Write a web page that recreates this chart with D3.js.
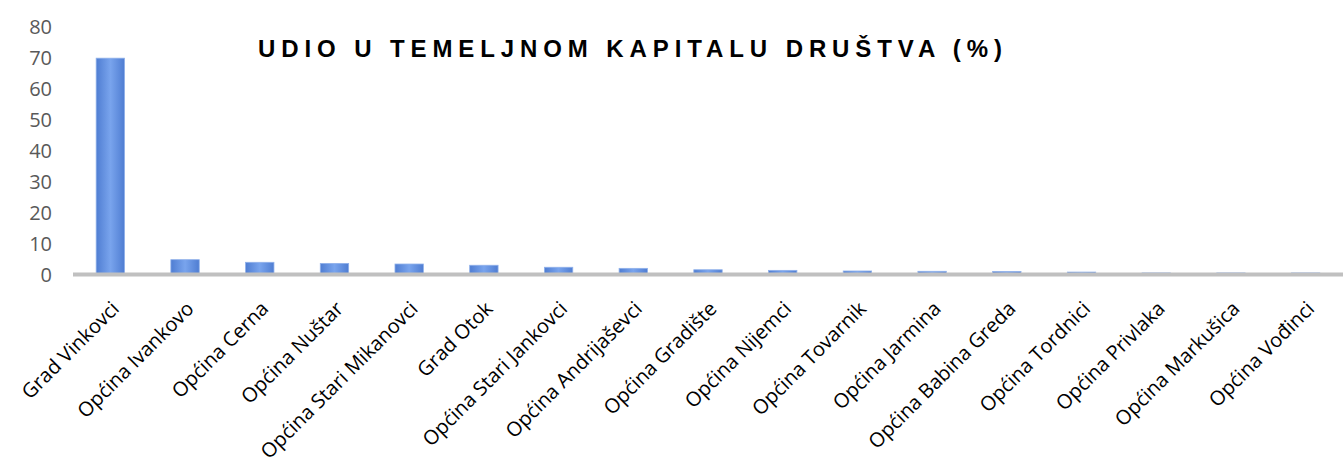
<!DOCTYPE html>
<html>
  <head>
    <meta charset="utf-8" />
    <style>
      body { margin: 0; background: #fff; }
      #chart { width: 1343px; height: 460px; }
      .ytick { font-family: 'Open Sans', sans-serif; font-size: 20px; fill: #595959; }
      .xlab { font-family: 'Open Sans', sans-serif; font-size: 20px; fill: #000; }
      .title { font-family: 'Liberation Sans', Arial, sans-serif; font-size: 24px; font-weight: bold; fill: #000; }
    </style>
  </head>
  <body>
    <div id="chart"></div>
    <script src="https://d3js.org/d3.v7.min.js"></script>
    <script>
    var categories = ['Grad Vinkovci', 'Općina Ivankovo', 'Općina Cerna', 'Općina Nuštar',
      'Općina Stari Mikanovci', 'Grad Otok', 'Općina Stari Jankovci', 'Općina Andrijaševci',
      'Općina Gradište', 'Općina Nijemci', 'Općina Tovarnik', 'Općina Jarmina',
      'Općina Babina Greda', 'Općina Tordnici', 'Općina Privlaka', 'Općina Markušica', 'Općina Vođinci'];
    var values = [69.3, 4.3, 3.45, 3.1, 2.9, 2.5, 1.85, 1.5, 1.05, 0.85, 0.65, 0.55, 0.5, 0.3, 0.02, 0.02, 0.02];
    var yTicks = [0, 10, 20, 30, 40, 50, 60, 70, 80];
    var title = 'UDIO U TEMELJNOM KAPITALU DRUŠTVA (%)';

    var width = 1343,
        height = 460;

    var svg = d3.select('#chart')
      .append('svg')
      .attr('width', width)
      .attr('height', height);

    // horizontal gradient, lighter in the middle
    var grad = svg.append('defs').append('linearGradient')
      .attr('id', 'barGrad')
      .attr('x1', '0%').attr('x2', '100%')
      .attr('y1', '0%').attr('y2', '0%');
    grad.append('stop').attr('offset', '0%').attr('stop-color', '#4f7dd2');
    grad.append('stop').attr('offset', '50%').attr('stop-color', '#79a4ed');
    grad.append('stop').attr('offset', '100%').attr('stop-color', '#4f7dd2');

    var x = d3.scaleBand()
      .domain(categories)
      .range([73, 1343])
      .paddingInner(0.62)
      .paddingOuter(0.31);

    var y = d3.scaleLinear()
      .domain([0, 80])
      .range([273, 25]);

    // y tick labels only, no axis line
    svg.append('g')
      .selectAll('text')
      .data(yTicks)
      .enter().append('text')
      .attr('class', 'ytick')
      .attr('x', 52)
      .attr('y', function(d) { return y(d) + 2; })
      .attr('dy', '0.35em')
      .attr('text-anchor', 'end')
      .text(function(d) { return d; });

    // bars
    svg.append('g')
      .selectAll('rect')
      .data(values)
      .enter().append('rect')
      .attr('x', function(d, i) { return x(categories[i]); })
      .attr('width', x.bandwidth())
      .attr('y', function(d) { return y(d); })
      .attr('height', function(d) { return y(0) - y(d) + 1; })
      .attr('fill', 'url(#barGrad)')
      .attr('stroke', '#8fb0ea')
      .attr('stroke-width', 0.8);

    // category axis line
    svg.append('line')
      .attr('x1', 73).attr('x2', 1343)
      .attr('y1', y(0) + 1.5).attr('y2', y(0) + 1.5)
      .attr('stroke', '#c0c0c0')
      .attr('stroke-width', 4);

    // rotated category labels
    svg.append('g')
      .selectAll('text')
      .data(categories)
      .enter().append('text')
      .attr('class', 'xlab')
      .attr('text-anchor', 'end')
      .attr('dy', '0.35em')
      .attr('transform', function(d) {
        return 'translate(' + (x(d) + x.bandwidth() / 2 + 5) + ',305) rotate(-45)';
      })
      .text(function(d) { return d; });

    // title, spread out like the original
    svg.append('text')
      .attr('class', 'title')
      .attr('x', 258)
      .attr('y', 57)
      .attr('textLength', 744)
      .attr('lengthAdjust', 'spacing')
      .text(title);
    </script>
  </body>
</html>
